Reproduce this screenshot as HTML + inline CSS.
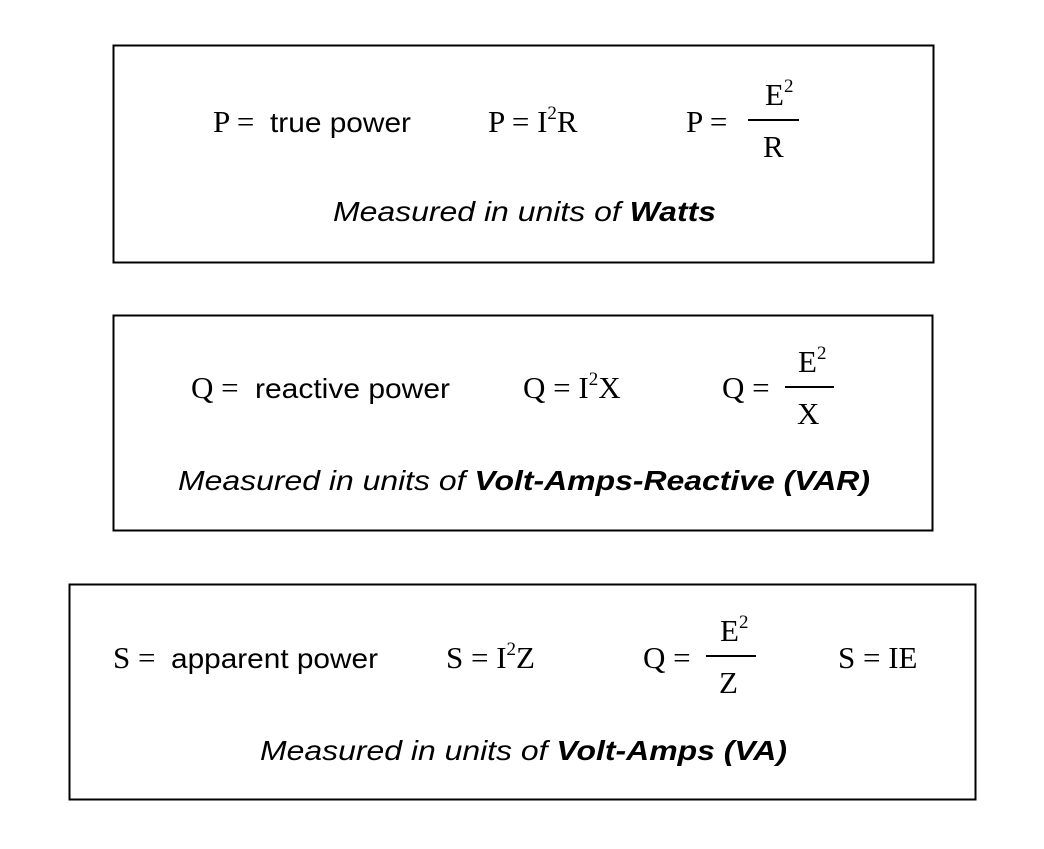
<!DOCTYPE html>
<html><head><meta charset="utf-8"><style>
html,body{margin:0;padding:0;background:#fff;}
svg{display:block}
.s{font-family:"Liberation Serif",serif;font-size:31px;fill:#000}
.a{font-family:"Liberation Sans",sans-serif;font-size:28px;fill:#000}
.i{font-family:"Liberation Sans",sans-serif;font-size:28px;font-style:italic;fill:#000}
.b{font-weight:bold}
.sup{font-size:19px}
</style></head><body>
<svg width="1044" height="849" viewBox="0 0 1044 849" xmlns="http://www.w3.org/2000/svg">
<g fill="none" stroke="#000" stroke-width="2">
<rect x="113.5" y="45.5" width="820" height="217"/>
<rect x="113.5" y="315.5" width="819" height="215"/>
<rect x="69.5" y="584.5" width="906" height="215"/>
<line x1="748" y1="120" x2="799" y2="120"/>
<line x1="785" y1="387" x2="834" y2="387"/>
<line x1="706" y1="656" x2="756" y2="656"/>
</g>
<!-- box 1 -->
<text class="s" x="213" y="132">P =</text>
<text class="a" x="270" y="132" textLength="141" lengthAdjust="spacingAndGlyphs">true power</text>
<text class="s" x="488" y="132">P = I<tspan class="sup" dy="-13">2</tspan><tspan dy="13">R</tspan></text>
<text class="s" x="686" y="132">P =</text>
<text class="s" x="765" y="105">E<tspan class="sup" dy="-13">2</tspan></text>
<text class="s" x="763" y="157">R</text>
<text class="i" x="333" y="221" textLength="383" lengthAdjust="spacingAndGlyphs">Measured in units of <tspan class="b">Watts</tspan></text>
<!-- box 2 -->
<text class="s" x="191" y="398">Q =</text>
<text class="a" x="255" y="398" textLength="195" lengthAdjust="spacingAndGlyphs">reactive power</text>
<text class="s" x="523" y="398">Q = I<tspan class="sup" dy="-13">2</tspan><tspan dy="13">X</tspan></text>
<text class="s" x="722" y="398">Q =</text>
<text class="s" x="798" y="372">E<tspan class="sup" dy="-13">2</tspan></text>
<text class="s" x="797" y="424">X</text>
<text class="i" x="178" y="490" textLength="692" lengthAdjust="spacingAndGlyphs">Measured in units of <tspan class="b">Volt-Amps-Reactive (VAR)</tspan></text>
<!-- box 3 -->
<text class="s" x="113" y="668">S =</text>
<text class="a" x="171" y="668" textLength="207" lengthAdjust="spacingAndGlyphs">apparent power</text>
<text class="s" x="446" y="668">S = I<tspan class="sup" dy="-13">2</tspan><tspan dy="13">Z</tspan></text>
<text class="s" x="643" y="668">Q =</text>
<text class="s" x="720" y="641">E<tspan class="sup" dy="-13">2</tspan></text>
<text class="s" x="719" y="693">Z</text>
<text class="s" x="838" y="668">S = IE</text>
<text class="i" x="260" y="760" textLength="527" lengthAdjust="spacingAndGlyphs">Measured in units of <tspan class="b">Volt-Amps (VA)</tspan></text>
</svg>
</body></html>
